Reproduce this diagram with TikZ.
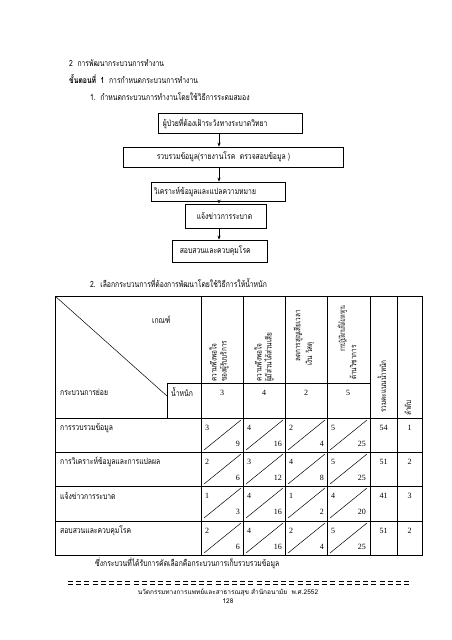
\documentclass[tikz,border=0pt]{standalone}
\usepackage{fontspec}
\setmainfont{Liberation Serif}
\newfontfamily\thai[Script=Thai, FakeStretch=0.8]{Loma}
\newfontfamily\thaifoot[Script=Thai]{Loma}
\usetikzlibrary{arrows.meta}
\begin{document}
\begin{tikzpicture}[x=1pt,y=-1pt,
  txt/.style={inner sep=0, anchor=west, font=\thai\fontsize{8.5}{10}\selectfont},
  box/.style={draw, line width=0.8pt, inner sep=0},
  arr/.style={-{Stealth[length=4pt,width=3.2pt]}, line width=0.6pt},
  tl/.style={line width=0.8pt},
  dg/.style={line width=0.5pt},
  num/.style={inner sep=0, font=\fontsize{8}{9}\selectfont},
  vtxt/.style={rotate=90, anchor=west, inner sep=0, align=left, font=\thai\fontsize{8}{10}\selectfont},
  foot/.style={inner sep=0, font=\thaifoot\fontsize{6.5}{8}\selectfont}]
\useasboundingbox (0,0) rectangle (452,640);
\fill[white] (0,0) rectangle (452,640);
% headings
\node[txt] (h1) at (69,63) {2\ \ การพัฒนากระบวนการทำงาน};
\node[txt] (h2) at (69,79) {{\bfseries ขั้นตอนที่\ \ 1}\ \ การกำหนดกระบวนการทำงาน};
\node[txt] (h3) at (90,97) {1.\ \ กำหนดกระบวนการทำงานโดยใช้วิธีการระดมสมอง};
% flow boxes
\node[box, minimum width=144pt, minimum height=20pt] (b1) at (230,123) {};
\node[box, minimum width=220pt, minimum height=20pt] (b2) at (233,157) {};
\node[box, minimum width=134pt, minimum height=19pt] (b3) at (218,191.5) {};
\node[box, minimum width=81pt, minimum height=24pt] (b4) at (225.5,216) {};
\node[box, minimum width=95pt, minimum height=22pt] (b5) at (219.5,251) {};
\node[txt] (t1) at ([xshift=5pt]b1.west) {ผู้ป่วยที่ต้องเฝ้าระวังทางระบาดวิทยา};
\node[txt] (t2) at ([xshift=34pt]b2.west) {รวบรวมข้อมูล(รายงานโรค\ \ ตรวจสอบข้อมูล )};
\node[txt] (t3) at ([xshift=3pt]b3.west) {วิเคราะห์ข้อมูลและแปลความหมาย};
\node[txt] (t4) at ([xshift=12pt]b4.west) {แจ้งข่าวการระบาด};
\node[txt] (t5) at ([xshift=8pt]b5.west) {สอบสวนและควบคุมโรค};
\coordinate (ax) at (219,0);
\draw[arr] (ax |- b1.south) -- (ax |- b2.north);
\draw[arr] (ax |- b2.south) -- (ax |- b3.north);
\draw[arr] (ax |- b3.south) -- (ax |- b4.north);
\draw[arr] (ax |- b4.south) -- (ax |- b5.north);
\node[txt] (h4) at (90,283) {2.\ \ เลือกกระบวนการที่ต้องการพัฒนาโดยใช้วิธีการให้น้ำหนัก};
% table frame
\draw[tl] (55,296) rectangle (422,555);
\foreach \yy in {418,452,486,521} \draw[tl] (55,\yy) -- (422,\yy);
\foreach \xx in {201,243,285,327,370,397} \draw[tl] (\xx,296) -- (\xx,555);
\draw[tl] (167,418) -- (167,383) -- (370,383);
\draw[dg] (55,296) -- (167,396);
\node[txt] (kt) at (152,320) {เกณฑ์};
\node[txt] (kp) at (60,392) {กระบวนการย่อย};
\node[txt] (nw) at (171,392) {น้ำหนัก};
% header columns
\node[vtxt] (c1) at (219,382) {ความพึงพอใจ\\ของผู้รับบริการ};
\node[vtxt] (c2) at (264,382) {ความพึงพอใจ\\ผู้มีส่วนได้ส่วนเสีย};
\node[vtxt] (c3a) at (298,362) {ลดการสูญเสียเวลา};
\node[vtxt] (c3b) at (310,366) {เงิน วัสดุ};
\node[vtxt] (c4a) at (342,352) {\scalebox{0.6}[1]{การปฏิบัติงานที่ได้มาตรฐาน}};
\node[vtxt] (c4b) at (353,380) {ด้านวิชาการ};
\node[vtxt] (c5) at (382,413) {รวมคะแนนน้ำหนัก};
\node[vtxt] (c6) at (408,416) {ลำดับ};
% weights
\foreach \xx/\w in {222/3,264/4,306/2,348/5} \node[num] at (\xx,393) {\w};
% rows
\foreach \yy/\lab in {418/การรวบรวมข้อมูล,452/การวิเคราะห์ข้อมูลและการแปลผล,486/แจ้งข่าวการระบาด,521/สอบสวนและควบคุมโรค}
  \node[txt] at (60,\yy+10) {\lab};
\foreach \yy/\a/\b/\c/\d/\e/\f/\g/\h/\t/\r in {418/3/9/4/16/2/4/5/25/54/1, 452/2/6/3/12/4/8/5/25/51/2, 486/1/3/4/16/1/2/4/20/41/3, 521/2/6/4/16/2/4/5/25/51/2}{
  \foreach \xx/\p/\q in {201/\a/\b, 243/\c/\d, 285/\e/\f, 327/\g/\h}{
    \draw[dg] (\xx+3,\yy+32) -- (\xx+40,\yy+2);
    \node[num, anchor=west] at (\xx+4,\yy+10) {\p};
    \node[num, anchor=east] at (\xx+39,\yy+26) {\q};
  }
  \node[num] at (383.5,\yy+10) {\t};
  \node[num] at (409.5,\yy+10) {\r};
}
\node[txt] (conc) at (95,563) {ซึ่งกระบวนที่ได้รับการคัดเลือกคือกระบวนการเก็บรวบรวมข้อมูล};
% footer
\draw[line width=0.9pt, dash pattern=on 5pt off 3.2pt] (68,581.5) -- (412,581.5);
\draw[line width=0.9pt, dash pattern=on 5pt off 3.2pt] (68,584.5) -- (412,584.5);
\node[foot] (f1) at (228,592) {นวัตกรรมทางการแพทย์และสาธารณสุข สำนักอนามัย\ \ พ.ศ.2552};
\node[foot] (f2) at (228,601) {128};
\end{tikzpicture}
\end{document}
